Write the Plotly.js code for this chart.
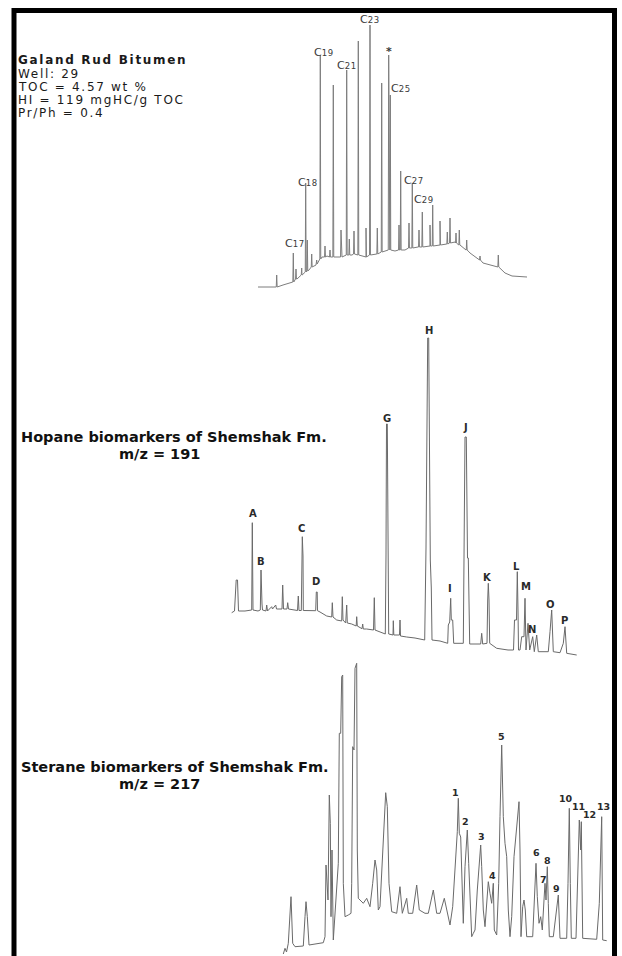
<!DOCTYPE html>
<html><head><meta charset="utf-8">
<script src="https://cdn.plot.ly/plotly-3.0.1.min.js"></script>
<style>html,body{margin:0;padding:0;background:#fff}</style>
</head><body><div id="chart" style="width:622px;height:956px"></div>
<script>
// ===== Panel 1: whole-oil GC (n-alkanes) =====
const alkBaseScan  = [258, 275, 283, 291, 297, 302, 309, 316, 322, 327, 336, 342, 352, 362, 366, 375, 386, 395, 405, 418, 430, 440, 447, 455, 460, 466, 470, 483, 497, 505, 512, 527];
const alkBaseAbund = [3, 3, 5, 7.5, 11, 15, 20, 25, 33, 34, 33, 33, 35, 34, 33, 36, 39, 39, 40, 43, 44, 45, 46, 48, 45, 40, 37, 27, 23.5, 17, 14, 13];
const alkPeakScan  = [276.7, 293.3, 296, 301.7, 305.7, 307.3, 311.7, 316.7, 320.3, 325, 330, 333.3, 341, 346.7, 349.3, 354, 358.3, 366, 370, 377.3, 381.7, 388.7, 390.3, 399, 400.7, 409, 412.3, 419, 422.3, 430, 432.7, 440, 447.3, 450, 456, 459.3, 466.7, 480, 498.3];
const alkPeakBase  = [3, 8, 11, 15, 18, 19, 23, 26, 31, 33, 33, 33, 33, 35, 35, 36, 35, 33, 35, 36, 38, 40, 40, 40, 40, 42, 42, 43, 43, 44, 44, 45, 46, 47, 47, 45, 40, 30, 23];
const alkPeakTop   = [15, 37, 21, 22, 107, 50, 36, 30, 235, 44, 40, 205, 60, 220, 51, 59, 249, 62, 265, 62, 207, 235, 195, 65, 119, 67, 107, 60, 78, 65, 85, 69, 58, 72, 57, 60, 50, 34, 35];
const alkLabelNum   = ['17', '18', '19', '21', '23', '*', '25', '27', '29'];
const alkLabelScan  = [294.5, 308, 324, 346.5, 369.5, 388.5, 401, 414, 424];
const alkLabelAbund = [47, 108, 238, 224.5, 270.5, 239, 202, 110, 91];

// ===== Panel 2: hopanes, m/z 191 =====
const hopScan = [231.7, 234.5, 236.2, 237.5, 238.5, 245, 251.7, 252.3, 253, 258, 260.3, 261, 262, 262.5, 266, 266.7, 267.5, 270, 271.7, 272.5, 275.7, 276.5, 282, 282.7, 283.5, 287, 287.7, 288.5, 297.5, 298.3, 299, 301.3, 302, 302.3, 303, 303.3, 315.7, 316.3, 317.2, 317.5, 320, 326.7, 331.7, 332.3, 333, 336.7, 341.7, 342.3, 343, 345.7, 346.7, 347.3, 351.7, 356.2, 356.7, 357.3, 362, 362.7, 363.3, 366.7, 373.5, 374.3, 375, 380, 385.3, 386, 386.5, 387.3, 388, 388.7, 393, 393.3, 393.8, 399.5, 400, 400.5, 406.7, 415, 424.7, 425.3, 426, 427.7, 428.7, 430.3, 431.3, 432, 440, 447.7, 448.3, 449.7, 450.7, 451.3, 452.7, 453.7, 463.3, 464, 465, 466.3, 467.5, 468.3, 469.7, 480.7, 481.7, 482.7, 487, 487.7, 488.3, 489, 489.7, 496.7, 508, 513.5, 514.5, 516.5, 517.3, 518, 518.5, 520, 521.7, 524, 525, 526, 528, 529.7, 532.7, 534.3, 536.7, 538.3, 548.3, 550, 551.7, 553.3, 560, 563.3, 565, 566.7, 576.7];
const hopAbund = [47.3, 49, 80, 80, 49, 49, 50, 137.3, 50, 49, 50, 90, 56, 50, 49, 55, 49, 51, 53.3, 51, 55, 51, 51, 75, 51, 51, 57.3, 51, 49.5, 64, 49.5, 49.5, 104, 123.3, 104, 49.5, 49.3, 68, 68, 49.3, 48, 44, 43, 57.3, 43, 40, 39, 63.3, 40, 37, 55, 37, 36, 34, 43.3, 34, 31.3, 36, 31, 31, 30, 62.3, 30, 28, 26, 105, 236, 236, 105, 26, 25, 39.3, 25, 25, 40, 24, 23, 22, 20, 112, 112, 322, 322, 100, 72, 20, 19, 16.7, 35, 38, 61.7, 40, 40, 16.7, 16.7, 102, 223, 223, 102, 102, 16, 16, 26.7, 16, 16.7, 60, 76.7, 60, 16.7, 11.7, 10, 10, 40, 40, 88.3, 50, 10, 10, 23.3, 23.3, 61.7, 10, 36.7, 10, 23.3, 8.3, 25, 8.3, 8.3, 28.3, 50, 8.3, 7.3, 16.7, 33.3, 6.7, 5];
const hopLabelText  = ['A', 'B', 'C', 'D', 'G', 'H', 'I', 'J', 'K', 'L', 'M', 'N', 'O', 'P'];
const hopLabelScan  = [252.7, 260.7, 301, 316, 386.7, 429, 450, 465, 487.7, 516, 525.7, 532.3, 550.7, 564];
const hopLabelAbund = [147, 98.3, 132, 79, 241.7, 330, 72, 233, 82.7, 94, 73.3, 30.7, 56, 39.3];

// ===== Panel 3: steranes, m/z 217 =====
const stScan = [283.3, 285, 286.5, 288.3, 291, 292.7, 295, 303.3, 305, 306, 307.3, 309, 323.3, 325, 326, 327, 328, 329.3, 330.3, 331, 332, 333.3, 335, 338.3, 339.3, 340.7, 341.7, 342.7, 343.3, 345, 348.3, 351, 351.7, 352.7, 354, 355, 356.7, 357.3, 358.3, 363.3, 366.7, 370, 372.7, 375, 376.7, 378.3, 380, 383.3, 385.7, 387.3, 389, 391.7, 396.7, 400, 402.3, 406.7, 408.3, 412.7, 416.7, 419.3, 425, 428.3, 433.3, 436.7, 440, 444.3, 447.3, 450, 452.7, 455, 457.3, 458.3, 459.3, 460.7, 461.7, 463.3, 465, 466.7, 467.3, 468.7, 470, 471.7, 473.3, 475, 477.3, 479.3, 480.7, 481.7, 483.3, 485, 486.7, 488.3, 490, 491.7, 493.3, 494.3, 496.7, 498.7, 500, 501.7, 503.3, 505, 506.7, 508.3, 510, 511.7, 514, 516.7, 519, 520, 521, 522.7, 524, 525.3, 526.7, 532.7, 534.3, 536, 537.3, 539, 540.7, 542.3, 544, 545, 546, 546.7, 547.3, 548.3, 549.3, 553.3, 556, 558.3, 560, 566.7, 568, 569.3, 570.3, 571.3, 576, 577.3, 579.3, 580.7, 581.3, 582.7, 596.7, 599.3, 600.7, 601.7, 602.7, 606.7];
const stAbund = [6, 11.7, 8, 16.7, 63.3, 16.7, 13.3, 14, 43.3, 58.3, 43.3, 15, 17.3, 23.3, 95, 76.7, 60, 165, 136.7, 43.3, 110, 20, 43.3, 96.7, 226.7, 226.7, 283.3, 285, 76.7, 43.3, 45, 46.7, 76.7, 213.3, 210, 291.7, 296.7, 110, 61.7, 56.7, 61.7, 53.3, 76.7, 100, 90, 50, 53.3, 120, 167.3, 153.3, 76.7, 48.3, 46.7, 73.3, 46.7, 61.7, 46.7, 46.7, 75, 50, 46.7, 46.7, 70, 46.7, 46.7, 61.7, 46.7, 35, 53.3, 93.3, 128.3, 161.7, 126.7, 123, 83.3, 36.7, 93.3, 128.3, 130, 96.7, 56.7, 23.3, 26.7, 30, 70, 93.3, 115, 93.3, 50, 33.3, 63.3, 78.3, 66.7, 56.7, 76.7, 30, 25, 76.7, 143.3, 215, 143.3, 116.7, 103.3, 50, 23.3, 43.3, 103.3, 136.7, 158.3, 110, 23.3, 53.3, 60, 50, 23.3, 23.3, 56.7, 96.7, 63.3, 36.7, 43.3, 30, 60, 76.7, 60, 83.3, 93.3, 56.7, 23.3, 23.3, 43.3, 65, 21.7, 21.7, 76.7, 151.7, 76.7, 21.7, 21.7, 76.7, 140, 110, 138.3, 21.7, 20.7, 56.7, 116.7, 143.3, 20, 19.3];
const stLabelText  = ['1', '2', '3', '4', '5', '6', '7', '8', '9', '10', '11', '12', '13'];
const stLabelScan  = [455.7, 465.7, 481.7, 492.7, 501.7, 536, 543.3, 547.3, 556.7, 565.5, 578, 589, 603];
const stLabelAbund = [167.3, 138.3, 123.3, 85, 224, 107.7, 81, 99.3, 71.7, 161.7, 154, 145.5, 153.3];

// ----- build the n-alkane trace: baseline points + narrow peaks -----
const alkPts = [];
alkBaseScan.forEach((s, i) => alkPts.push([s, alkBaseAbund[i]]));
alkPeakScan.forEach((s, i) => {
  alkPts.push([s - 0.45, alkPeakBase[i]]);
  alkPts.push([s, alkPeakTop[i]]);
  alkPts.push([s + 0.45, alkPeakBase[i]]);
});
alkPts.sort((a, b) => a[0] - b[0]);

const traces = [
  {x: alkPts.map(p => p[0]), y: alkPts.map(p => p[1]), xaxis: 'x', yaxis: 'y',
   type: 'scatter', mode: 'lines', line: {color: '#7d7d7d', width: 1}, hoverinfo: 'skip'},
  {x: hopScan, y: hopAbund, xaxis: 'x', yaxis: 'y2',
   type: 'scatter', mode: 'lines', line: {color: '#6a6a6a', width: 1}, hoverinfo: 'skip'},
  {x: stScan, y: stAbund, xaxis: 'x', yaxis: 'y3',
   type: 'scatter', mode: 'lines', line: {color: '#6a6a6a', width: 1}, hoverinfo: 'skip'}
];

const W = 622, H = 956;
const px = v => v / W, py = v => 1 - v / H;
const FONT = 'DejaVu Sans';

const annotations = [];
alkLabelNum.forEach((t, i) => annotations.push({
  x: alkLabelScan[i], y: alkLabelAbund[i], xref: 'x', yref: 'y',
  text: t === '*' ? '<b>*</b>' : 'C<span style="font-size:8.5px;letter-spacing:0.6px">' + t + '</span>',
  showarrow: false, xanchor: 'center', yanchor: 'middle', font: {family: FONT, size: 11, color: '#3a3a3a'}
}));
hopLabelText.forEach((t, i) => annotations.push({
  x: hopLabelScan[i], y: hopLabelAbund[i], xref: 'x', yref: 'y2', text: '<b>' + t + '</b>', showarrow: false,
  xanchor: 'center', yanchor: 'middle', font: {family: FONT, size: 10, color: '#2a2a2a'}
}));
stLabelText.forEach((t, i) => annotations.push({
  x: stLabelScan[i], y: stLabelAbund[i], xref: 'x', yref: 'y3', text: '<b>' + t + '</b>', showarrow: false,
  xanchor: 'center', yanchor: 'middle', font: {family: FONT, size: 9.5, color: '#2a2a2a'}
}));

// sample description block
const infoLines = ['<b>Galand Rud Bitumen</b>', 'Well: 29', 'TOC = 4.57 wt %', 'HI = 119 mgHC/g TOC', 'Pr/Ph = 0.4'];
const infoY = [60.5, 73.7, 86.9, 100.1, 113.3];
infoLines.forEach((t, i) => annotations.push({
  x: px(17), y: py(infoY[i]), xref: 'paper', yref: 'paper',
  text: '<span style="letter-spacing:1.7px">' + t + '</span>', showarrow: false,
  xanchor: 'left', yanchor: 'middle', borderpad: 0, font: {family: FONT, size: 12, color: '#1a1a1a'}
}));
// panel titles
annotations.push({x: px(19), y: py(437), xref: 'paper', yref: 'paper', text: '<b>Hopane biomarkers of Shemshak Fm.</b>',
  showarrow: false, xanchor: 'left', yanchor: 'middle', font: {family: FONT, size: 14.5, color: '#111'}});
annotations.push({x: px(159), y: py(454), xref: 'paper', yref: 'paper', text: '<b>m/z = 191</b>',
  showarrow: false, xanchor: 'center', yanchor: 'middle', font: {family: FONT, size: 14.5, color: '#111'}});
annotations.push({x: px(19), y: py(767), xref: 'paper', yref: 'paper', text: '<b>Sterane biomarkers of Shemshak Fm.</b>',
  showarrow: false, xanchor: 'left', yanchor: 'middle', font: {family: FONT, size: 14.5, color: '#111'}});
annotations.push({x: px(159), y: py(784), xref: 'paper', yref: 'paper', text: '<b>m/z = 217</b>',
  showarrow: false, xanchor: 'center', yanchor: 'middle', font: {family: FONT, size: 14.5, color: '#111'}});

const hidden = {visible: false, fixedrange: true, showgrid: false, zeroline: false};
const layout = {
  width: W, height: H, margin: {l: 0, r: 0, t: 0, b: 0},
  paper_bgcolor: '#ffffff', plot_bgcolor: 'rgba(0,0,0,0)', showlegend: false,
  xaxis: Object.assign({domain: [0, 1], range: [0, 622], anchor: 'y3'}, hidden),
  yaxis: Object.assign({domain: [1 - 300 / H, 1], range: [-10, 290], anchor: 'x'}, hidden),
  yaxis2: Object.assign({domain: [1 - 660 / H, 1 - 300 / H], range: [0, 360], anchor: 'x'}, hidden),
  yaxis3: Object.assign({domain: [0, 1 - 660 / H], range: [4, 300], anchor: 'x'}, hidden),
  annotations: annotations,
  shapes: [{type: 'rect', xref: 'paper', yref: 'paper', x0: px(14), x1: px(614.5), y0: -0.05, y1: py(10.5),
            line: {color: '#000', width: 5}, fillcolor: 'rgba(0,0,0,0)', layer: 'above'}]
};

Plotly.newPlot('chart', traces, layout, {staticPlot: true, displayModeBar: false});
</script>
</body></html>
